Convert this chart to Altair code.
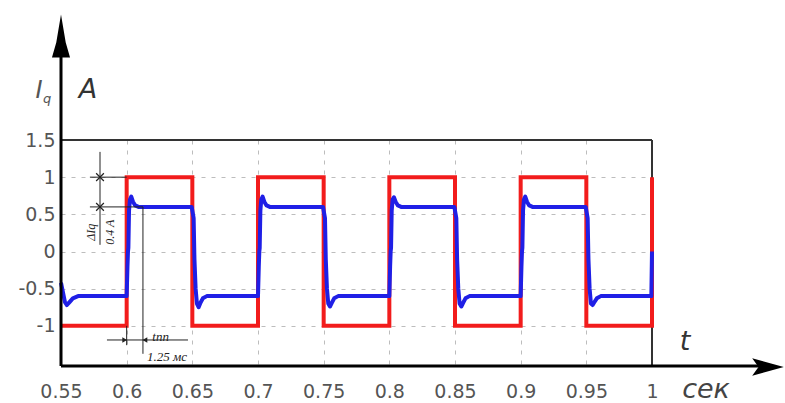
import altair as alt
import pandas as pd

# Reference (commanded) current, square wave, A
red_t = [0.55, 0.60, 0.60, 0.65, 0.65, 0.70, 0.70, 0.75, 0.75, 0.80,
         0.80, 0.85, 0.85, 0.90, 0.90, 0.95, 0.95, 1.00, 1.00]
red_i = [-1, -1, 1, 1, -1, -1, 1, 1, -1, -1,
         1, 1, -1, -1, 1, 1, -1, -1, 1]

# Measured current I_q, A
blue_t = [
    0.55, 0.5515, 0.553, 0.5545, 0.5565, 0.559, 0.563,
    0.60, 0.6006, 0.6010, 0.6013, 0.6018, 0.6025, 0.6035, 0.6048, 0.6065, 0.609,
    0.6495, 0.6503, 0.6510, 0.6516, 0.6525, 0.6535, 0.6548, 0.6562, 0.658, 0.661,
    0.70, 0.7006, 0.7010, 0.7013, 0.7018, 0.7025, 0.7035, 0.7048, 0.7065, 0.709,
    0.7495, 0.7503, 0.7510, 0.7516, 0.7525, 0.7535, 0.7548, 0.7562, 0.758, 0.761,
    0.80, 0.8006, 0.8010, 0.8013, 0.8018, 0.8025, 0.8035, 0.8048, 0.8065, 0.809,
    0.8495, 0.8503, 0.8510, 0.8516, 0.8525, 0.8535, 0.8548, 0.8562, 0.858, 0.861,
    0.90, 0.9006, 0.9010, 0.9013, 0.9018, 0.9025, 0.9035, 0.9048, 0.9065, 0.909,
    0.9495, 0.9503, 0.9510, 0.9516, 0.9525, 0.9535, 0.9548, 0.9562, 0.958, 0.961,
    0.9995, 1.0,
]
blue_i = [
    -0.42, -0.55, -0.68, -0.72, -0.68, -0.63, -0.60,
    -0.60, -0.20, 0.00, 0.05, 0.55, 0.70, 0.74, 0.67, 0.62, 0.60,
    0.60, 0.52, 0.45, -0.10, -0.50, -0.70, -0.75, -0.69, -0.63, -0.60,
    -0.60, -0.20, 0.00, 0.05, 0.55, 0.70, 0.74, 0.67, 0.62, 0.60,
    0.60, 0.52, 0.45, -0.10, -0.50, -0.70, -0.74, -0.69, -0.63, -0.60,
    -0.60, -0.20, 0.00, 0.05, 0.55, 0.70, 0.73, 0.67, 0.62, 0.60,
    0.60, 0.52, 0.45, -0.10, -0.50, -0.70, -0.74, -0.69, -0.63, -0.60,
    -0.60, -0.20, 0.00, 0.05, 0.55, 0.70, 0.74, 0.67, 0.62, 0.60,
    0.60, 0.52, 0.45, -0.10, -0.50, -0.70, -0.72, -0.68, -0.63, -0.60,
    -0.60, 0.00,
]

x_ticks = [0.55, 0.6, 0.65, 0.7, 0.75, 0.8, 0.85, 0.9, 0.95, 1]
y_ticks = [-1, -0.5, 0, 0.5, 1, 1.5]

# Dimension lines marking the overshoot and the settling time
dim_t = [0.5797, 0.572, 0.572, 0.6124, 0.585, 0.60]
dim_i = [1.34, 1.0, 0.6, 0.6, -1.19, -1.0]
dim_t2 = [0.5797, 0.60, 0.6124, 0.6124, 0.6467, 0.60]
dim_i2 = [0.09, 1.0, 0.6, -1.376, -1.19, -1.26]

W, H = 591, 226
FONT = "DejaVu Sans"
SERIF = "Liberation Serif"

x_scale = alt.Scale(domain=[0.55, 1.0], nice=False, zero=False)
y_scale = alt.Scale(domain=[-1.54, 1.5], nice=False, zero=False)

x_axis = alt.Axis(values=x_ticks, labelExpr="'' + datum.value", title=None,
                  domain=False, ticks=False, grid=True, gridDash=[4, 6],
                  gridColor="#bdbdbd", labelFont=FONT, labelFontSize=19,
                  labelColor="#555555", labelPadding=16, labelFlush=False)
y_axis = alt.Axis(values=y_ticks, labelExpr="'' + datum.value", title=None,
                  domain=False, ticks=False, grid=True, gridDash=[4, 6],
                  gridColor="#bdbdbd", labelFont=FONT, labelFontSize=19,
                  labelColor="#555555", labelPadding=6, labelFlush=False)

X = alt.X("t:Q", scale=x_scale, axis=x_axis)
Y = alt.Y("i:Q", scale=y_scale, axis=y_axis)

red = pd.DataFrame({"t": red_t, "i": red_i, "k": range(len(red_t))})
blue = pd.DataFrame({"t": blue_t, "i": blue_i, "k": range(len(blue_t))})
dims = pd.DataFrame({"t": dim_t, "i": dim_i, "t2": dim_t2, "i2": dim_i2})
one = pd.DataFrame({"a": [0]})

# Plot frame: top and right edges
frame_top = alt.Chart(one).mark_rule(color="#333333", strokeWidth=2).encode(
    x=alt.value(0), x2=alt.value(W), y=alt.value(0))
frame_right = alt.Chart(one).mark_rule(color="#333333", strokeWidth=2).encode(
    x=alt.value(W), y=alt.value(0), y2=alt.value(H))

red_line = alt.Chart(red).mark_line(color="#f21c1c", strokeWidth=4,
                                    strokeJoin="miter").encode(x=X, y=Y, order="k:Q")
blue_line = alt.Chart(blue).mark_line(color="#1f1fe6", strokeWidth=4,
                                      strokeJoin="round").encode(x=X, y=Y, order="k:Q")

dim_lines = alt.Chart(dims).mark_rule(color="#222222", strokeWidth=1).encode(
    x=X, y=Y, x2="t2:Q", y2="i2:Q")

arrows_lr = alt.Chart(pd.DataFrame({
    "t": [0.5985, 0.6139], "i": [-1.19, -1.19], "s": ["triangle-right", "triangle-left"]
})).mark_point(filled=True, color="#222222", size=30, opacity=1).encode(
    x=X, y=Y, shape=alt.Shape("s:N", scale=None, legend=None))

cross_marks = alt.Chart(pd.DataFrame({"t": [0.5797, 0.5797], "i": [1.0, 0.6]})).mark_point(
    shape="M-1,-1L1,1M1,-1L-1,1", filled=False, color="#222222", size=60,
    strokeWidth=1.2, opacity=1).encode(x=X, y=Y)

frac = alt.Chart(pd.DataFrame({
    "t": [0.5725, 0.5872], "i": [0.26, 0.26], "s": ["ΔIq", "0.4 A"]
})).mark_text(angle=270, font=SERIF, fontStyle="italic", fontSize=12,
              color="#222222").encode(x=X, y=Y, text="s:N")

tpp = alt.Chart(pd.DataFrame({
    "t": [0.6195, 0.6155], "i": [-1.15, -1.415], "s": ["tпп", "1.25 мс"]
})).mark_text(align="left", font=SERIF, fontStyle="italic", fontSize=13,
              color="#222222").encode(x=X, y=Y, text="s:N")

# Axis lines with arrowheads
y_line = alt.Chart(one).mark_rule(color="black", strokeWidth=3).encode(
    x=alt.value(0), y=alt.value(H), y2=alt.value(-88))
x_line = alt.Chart(one).mark_rule(color="black", strokeWidth=3).encode(
    x=alt.value(0), x2=alt.value(700), y=alt.value(H))
y_head = alt.Chart(one).mark_point(
    shape="M0,-1 L0.22,0.3 L0.42,1 L-0.42,1 L-0.22,0.3 Z", filled=True,
    color="black", opacity=1, size=1850).encode(x=alt.value(0), y=alt.value(-104))
x_head = alt.Chart(one).mark_point(
    shape="M1,0 L-1,-0.55 L-0.6,0 L-1,0.55 Z", filled=True,
    color="black", opacity=1, size=1000).encode(x=alt.value(707), y=alt.value(H + 1))


def label(txt, x, y, size, color="#333333", style="italic", font=FONT):
    return alt.Chart(one).mark_text(text=txt, font=font, fontSize=size,
                                    fontStyle=style, color=color).encode(
        x=alt.value(x), y=alt.value(y))


labels = [
    label("I", -22, -49, 24, "#555555"),
    label("q", -14, -41, 13, "#555555"),
    label("A", 27, -50, 27),
    label("t", 624, 202, 27),
    label("сек", 645, 250, 27, "#444444"),
]

chart = alt.layer(
    frame_top, frame_right, red_line, blue_line, dim_lines, arrows_lr,
    cross_marks, frac, tpp, y_line, x_line, y_head, x_head, *labels
).properties(
    width=W, height=H,
    autosize=alt.AutoSizeParams(type="none"),
    padding={"left": 61, "top": 140, "right": 133, "bottom": 37},
    background="white",
).configure_view(stroke=None)

chart.save("out.html", embed_options={"renderer": "svg", "actions": False})
